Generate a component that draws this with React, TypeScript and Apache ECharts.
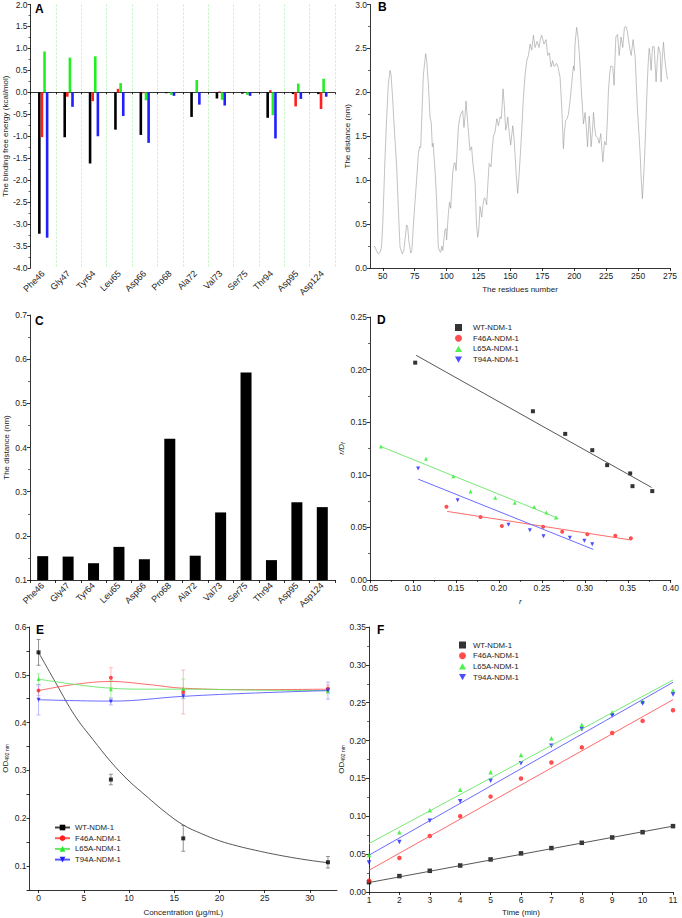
import React, { useEffect, useRef } from 'react';
import * as echarts from 'echarts';

const FONT = 'Liberation Sans';

// ---------- Panel A ----------
const residues = ['Phe46', 'Gly47', 'Tyr64', 'Leu65', 'Asp66', 'Pro68', 'Ala72', 'Val73', 'Ser75', 'Thr94', 'Asp95', 'Asp124'];
const aWT = [-3.22, -1.02, -1.62, -0.85, -0.97, -0.02, -0.56, -0.14, -0.03, -0.58, -0.04, -0.04];
const aF46A = [-1.02, -0.1, -0.2, 0.08, -0.02, 0.0, 0.0, 0.02, 0.0, 0.05, -0.32, -0.38];
const aL65A = [0.93, 0.79, 0.82, 0.21, -0.18, -0.06, 0.28, -0.17, -0.06, -0.52, 0.2, 0.31];
const aT94A = [-3.31, -0.33, -1.0, -0.54, -1.15, -0.08, -0.28, -0.3, -0.08, -1.05, -0.15, -0.1];

// ---------- Panel B ----------
const bData: number[][] = [
  [43, 0.25], [44, 0.24], [45, 0.2], [46.5, 0.16], [48, 0.18], [49, 0.24], [50, 0.5], [51.7, 1.23], [53, 1.7],
  [54.4, 2.1], [55.7, 2.25], [56.5, 2.2], [57.8, 1.91], [59, 1.6], [60.9, 1.15], [62, 0.75], [63.5, 0.24],
  [65.3, 0.16], [66.5, 0.2], [67.4, 0.32], [68.7, 0.49], [69.5, 0.47], [70.5, 0.3], [71.9, 0.17], [72.8, 0.2],
  [73.9, 0.47], [75, 0.7], [76.5, 1.0], [77.9, 1.3], [78.8, 1.38], [79.7, 1.37], [80.8, 1.8], [81.8, 2.2],
  [83.6, 2.44], [84.5, 2.35], [85.7, 2.1], [87, 1.72], [88, 1.65], [88.8, 1.38], [89.5, 1.42], [90, 1.3],
  [91, 1.1], [92.2, 0.77], [93.5, 0.24], [94.5, 0.19], [95.4, 0.18], [96.2, 0.25], [97, 0.2], [98.7, 0.43],
  [99.5, 0.45], [100, 0.32], [101.4, 0.62], [102.3, 0.75], [103.2, 0.68], [104.8, 1.08], [105.8, 1.19],
  [106.6, 1.2], [107.4, 1.11], [108.3, 1.35], [109.2, 1.6], [110.2, 1.7], [111, 1.75], [112.6, 1.79],
  [113.6, 1.6], [114.4, 1.72], [115.2, 1.9], [116, 1.75], [117, 1.57], [118.3, 1.34], [119.6, 1.38],
  [120.5, 1.2], [121.5, 1.08], [122.3, 0.98], [123.4, 0.5], [124.4, 0.35], [125.3, 0.45], [126.2, 0.7],
  [127.5, 0.58], [128.5, 0.72], [129.6, 0.8], [130.5, 0.78], [131.4, 0.72], [132.3, 0.95], [133.3, 1.19],
  [134.8, 1.15], [135.7, 1.35], [136.7, 1.5], [138, 1.55], [139.3, 1.7], [140.6, 1.62], [141.9, 1.72],
  [142.8, 1.7], [143.5, 1.85], [144.2, 2.04], [145.2, 1.85], [146.3, 1.57], [147.1, 1.62], [147.9, 1.72],
  [149, 1.55], [150.2, 1.4], [151.8, 1.62], [152.7, 1.5], [153.6, 1.3], [154.6, 1.05], [155.7, 0.85],
  [156.5, 1.0], [157.5, 1.23], [158.8, 1.55], [160.2, 1.95], [161.5, 2.2], [162.8, 2.36], [164.1, 2.42],
  [165.4, 2.55], [166.7, 2.48], [168, 2.65], [169.3, 2.51], [170.9, 2.58], [172.4, 2.51], [173.4, 2.6],
  [174.5, 2.65], [175.4, 2.6], [176.3, 2.55], [177.9, 2.6], [179.2, 2.42], [180.5, 2.45], [181.8, 2.29],
  [183.1, 2.36], [184, 2.3], [185, 2.3], [186, 2.33], [187.1, 2.3], [188.9, 2.17], [190.2, 1.83],
  [191.5, 1.36], [192.3, 1.55], [193.3, 1.68], [194.4, 1.7], [195.4, 1.75], [196.7, 1.9], [198, 2.1],
  [199.3, 2.3], [200, 2.25], [200.6, 2.55], [201.9, 2.74], [202.8, 2.65], [203.8, 2.48], [204.6, 2.3],
  [205.4, 2.06], [206.3, 1.85], [207.2, 1.64], [208.5, 1.77], [209.4, 1.6], [210.4, 1.38], [211.7, 1.73],
  [212.4, 1.6], [213.2, 1.38], [214.2, 1.55], [215.1, 1.77], [216, 1.6], [216.9, 1.5], [218.5, 1.48],
  [219.5, 1.42], [220.8, 1.53], [221.6, 1.35], [222.4, 1.21], [223.7, 1.44], [225, 1.4], [226, 1.7],
  [226.8, 2.02], [227.7, 2.2], [228.6, 2.3], [230.2, 2.29], [231.2, 2.08], [232, 2.4], [232.6, 2.63],
  [233.9, 2.66], [235.2, 2.42], [236.7, 2.63], [238, 2.51], [239.3, 2.74], [240.6, 2.75], [241.5, 2.7],
  [242.5, 2.6], [243.5, 2.5], [244.6, 2.42], [246.1, 2.6], [247.7, 2.4], [248.6, 2.1], [249.5, 1.8],
  [250.6, 1.55], [251.6, 1.3], [252.5, 1.0], [253.4, 0.79], [254.2, 1.0], [255, 1.23], [256, 1.6],
  [256.8, 1.95], [257.8, 2.3], [258.7, 2.5], [259.5, 2.4], [260.2, 2.25], [261.3, 2.52], [262.6, 2.52],
  [263.4, 2.3], [264.1, 2.12], [265, 2.35], [266, 2.52], [267.3, 2.45], [268, 2.12], [269, 2.4],
  [269.9, 2.57], [270.8, 2.4], [271.7, 2.28], [273, 2.15],
];
const bTicks = [50, 75, 100, 125, 150, 175, 200, 225, 250, 275];

// ---------- Panel C ----------
const cValues = [0.154, 0.153, 0.138, 0.175, 0.147, 0.42, 0.155, 0.253, 0.57, 0.145, 0.276, 0.265];

// ---------- Panel D ----------
const dWT = [[0.1026, 0.2066], [0.2396, 0.1604], [0.2772, 0.1389], [0.3087, 0.1234], [0.326, 0.1092], [0.3528, 0.1013], [0.3555, 0.0892], [0.3785, 0.0845]];
const dF46A = [[0.139, 0.0696], [0.1786, 0.0598], [0.2035, 0.0513], [0.2515, 0.0506], [0.2737, 0.0459], [0.3029, 0.0434], [0.3355, 0.0421], [0.3536, 0.0396]];
const dL65A = [[0.0627, 0.1269], [0.1152, 0.1152], [0.1471, 0.0987], [0.167, 0.0842], [0.1958, 0.0782], [0.2185, 0.0734], [0.2411, 0.0693], [0.2553, 0.0642], [0.2664, 0.0595]];
const dT94A = [[0.106, 0.106], [0.152, 0.0759], [0.2112, 0.0525], [0.2361, 0.0472], [0.2519, 0.0415], [0.2826, 0.0402], [0.2995, 0.0373], [0.3087, 0.0339]];
const dFitWT = [[0.1037, 0.2136], [0.3777, 0.088]];
const dFitF46A = [[0.1398, 0.0652], [0.354, 0.038]];
const dFitL65A = [[0.0627, 0.1269], [0.2695, 0.0585]];
const dFitT94A = [[0.106, 0.0959], [0.3098, 0.0291]];

// ---------- Panel E ----------
const eConc = [0, 8, 16, 32];
const eWT = [0.547, 0.281, 0.158, 0.108];
const eWTErr = [0.027, 0.011, 0.027, 0.012];
const eF46A = [0.467, 0.494, 0.464, 0.471];
const eF46AErr = [0.01, 0.021, 0.046, 0.008];
const eL65A = [0.491, 0.47, 0.471, 0.467];
const eL65AErr = [0.011, 0.018, 0.02, 0.006];
const eT94A = [0.448, 0.444, 0.455, 0.467];
const eT94AErr = [0.032, 0.007, 0.005, 0.018];
const eCurveWT = [[0, 0.547], [2, 0.48], [4, 0.415], [6, 0.365], [8, 0.318], [10, 0.278], [12, 0.245], [14, 0.213], [16, 0.186], [18, 0.168], [20, 0.153], [22, 0.142], [24, 0.133], [26, 0.125], [28, 0.118], [30, 0.112], [32, 0.107]];
const eCurveF46A = [[0, 0.467], [4, 0.48], [8, 0.486], [12, 0.48], [16, 0.472], [24, 0.469], [32, 0.47]];
const eCurveL65A = [[0, 0.491], [4, 0.48], [8, 0.472], [12, 0.47], [16, 0.47], [24, 0.468], [32, 0.467]];
const eCurveT94A = [[0, 0.448], [8, 0.445], [16, 0.455], [24, 0.462], [32, 0.467]];
const eXTicks = [0, 5, 10, 15, 20, 25, 30];

// ---------- Panel F ----------
const fTime = [1, 2, 3, 4, 5, 6, 7, 8, 9, 10, 11];
const fWT = [0.013, 0.021, 0.028, 0.035, 0.043, 0.051, 0.058, 0.065, 0.072, 0.079, 0.087];
const fF46A = [0.015, 0.045, 0.074, 0.1, 0.126, 0.15, 0.171, 0.191, 0.21, 0.226, 0.24];
const fL65A = [0.049, 0.079, 0.108, 0.135, 0.158, 0.181, 0.203, 0.221, 0.237, 0.252, 0.266];
const fT94A = [0.039, 0.066, 0.094, 0.12, 0.147, 0.17, 0.193, 0.215, 0.233, 0.249, 0.261];
const fFitWT = [[1, 0.0125], [11, 0.087]];
const fFitF46A = [[1, 0.0287], [11, 0.254]];
const fFitL65A = [[1, 0.064], [11, 0.28]];
const fFitT94A = [[1, 0.0486], [11, 0.277]];

const names = ['WT-NDM-1', 'F46A-NDM-1', 'L65A-NDM-1', 'T94A-NDM-1'];

const BLACK = '#000000';
const RED = '#ff1f1f';
const GREEN = '#22ee22';
const BLUE = '#1f1fff';
const DOWN = 'path://M0,0L10,0L5,9Z';
const UP = 'path://M5,0L10,9L0,9Z';
const symbols = ['rect', 'circle', UP, DOWN];
const colors = [BLACK, RED, GREEN, BLUE];
const fitColors = ['#444444', '#ff5a5a', '#66e666', '#5a5aff'];
const errColors = ['#777777', '#ffaaaa', '#99ee99', '#aaaaff'];

const lbl = { fontSize: 8.5, color: '#222', fontFamily: FONT, margin: 3 };
const catLbl = { fontSize: 9, color: '#222', fontFamily: FONT, margin: 4, rotate: 45, interval: 0 };
const nameStyle = { fontSize: 8, color: '#222', fontFamily: FONT };
const line = { show: true, onZero: false, lineStyle: { color: '#000', width: 0.8 } };
const tick = { show: true, length: 3, lineStyle: { color: '#000', width: 0.8 } };
const minor = { show: true, splitNumber: 2, length: 2, lineStyle: { color: '#000', width: 0.6 } };
const noSplit = { show: false };

const zip = (xs: number[], ys: number[]) => xs.map((x, i) => [x, ys[i]]);
const zip3 = (xs: number[], ys: number[], es: number[]) => xs.map((x, i) => [x, ys[i], es[i]]);

function errorRender(color: string) {
  return (params: any, api: any) => {
    const x = api.value(0);
    const y = api.value(1);
    const e = api.value(2);
    const top = api.coord([x, y + e]);
    const bot = api.coord([x, y - e]);
    const w = 2;
    const st = { stroke: color, lineWidth: 0.8 };
    return {
      type: 'group',
      children: [
        { type: 'line', shape: { x1: top[0], y1: top[1], x2: bot[0], y2: bot[1] }, style: st },
        { type: 'line', shape: { x1: top[0] - w, y1: top[1], x2: top[0] + w, y2: top[1] }, style: st },
        { type: 'line', shape: { x1: bot[0] - w, y1: bot[1], x2: bot[0] + w, y2: bot[1] }, style: st },
      ],
    };
  };
}

export default function App() {
  const ref = useRef<HTMLDivElement>(null);
  useEffect(() => {
    if (!ref.current) return;
    const chart = echarts.init(ref.current, null, { renderer: 'svg' });

    const aSeries = [aWT, aF46A, aL65A, aT94A].map((d, i) => ({
      type: 'bar', name: 'A' + i, xAxisIndex: 0, yAxisIndex: 0, data: d,
      barWidth: 2.6, barGap: '0%', itemStyle: { color: colors[i] }, silent: true,
    }));

    const dData = [dWT, dF46A, dL65A, dT94A];
    const dFits = [dFitWT, dFitF46A, dFitL65A, dFitT94A];
    const dSeries: any[] = [];
    dData.forEach((d, i) => {
      dSeries.push({ type: 'line', name: 'dfit' + i, xAxisIndex: 4, yAxisIndex: 3, data: dFits[i], showSymbol: false, lineStyle: { color: fitColors[i], width: 0.9 }, silent: true });
      dSeries.push({ type: 'scatter', name: names[i], xAxisIndex: 4, yAxisIndex: 3, data: d, symbol: symbols[i], symbolSize: 4, itemStyle: { color: colors[i] } });
    });

    const eVals = [eWT, eF46A, eL65A, eT94A];
    const eErrs = [eWTErr, eF46AErr, eL65AErr, eT94AErr];
    const eCurves = [eCurveWT, eCurveF46A, eCurveL65A, eCurveT94A];
    const eSeries: any[] = [];
    eVals.forEach((v, i) => {
      eSeries.push({ type: 'custom', name: 'eerr' + i, xAxisIndex: 5, yAxisIndex: 4, data: zip3(eConc, v, eErrs[i]), renderItem: errorRender(errColors[i]), encode: { x: 0, y: 1 }, silent: true, z: 1 });
    });
    eVals.forEach((v, i) => {
      eSeries.push({ type: 'line', name: names[i] + ' ', xAxisIndex: 5, yAxisIndex: 4, data: eCurves[i], smooth: 0.4, showSymbol: false, symbol: symbols[i], symbolSize: 7, lineStyle: { color: i === 0 ? '#444' : fitColors[i], width: 0.9 }, itemStyle: { color: colors[i] }, z: 2 });
      eSeries.push({ type: 'scatter', name: 'epts' + i, xAxisIndex: 5, yAxisIndex: 4, data: zip(eConc, v), symbol: symbols[i], symbolSize: 4, itemStyle: { color: colors[i] }, z: 3 });
    });

    const fVals = [fWT, fF46A, fL65A, fT94A];
    const fFits = [fFitWT, fFitF46A, fFitL65A, fFitT94A];
    const fSeries: any[] = [];
    fVals.forEach((v, i) => {
      fSeries.push({ type: 'line', name: 'ffit' + i, xAxisIndex: 6, yAxisIndex: 5, data: fFits[i], showSymbol: false, lineStyle: { color: fitColors[i], width: 0.9 }, silent: true });
      fSeries.push({ type: 'scatter', name: names[i] + '  ', xAxisIndex: 6, yAxisIndex: 5, data: zip(fTime, v), symbol: symbols[i], symbolSize: 4.5, itemStyle: { color: colors[i] } });
    });

    const legendBase = {
      orient: 'vertical', itemHeight: 7, itemGap: 2.7, padding: 0, selectedMode: false,
      formatter: (n: string) => n.trim(),
    };
    const legText = (pad: number) => ({ fontSize: 7.8, fontFamily: FONT, color: '#222', lineHeight: 7, padding: [0, 0, 0, pad] });

    const letter = (t: string, x: number, y: number) => ({
      type: 'text', x, y, silent: true,
      style: { text: t, font: `bold 12px "${FONT}"`, fill: '#000', align: 'left', verticalAlign: 'top' },
    });

    const option: any = {
      animation: false,
      backgroundColor: '#fff',
      grid: [
        { left: 30, top: 4, width: 305, height: 264 },
        { left: 370, top: 4, width: 300, height: 264 },
        { left: 30, top: 315, width: 305, height: 265 },
        { left: 370, top: 317, width: 303, height: 263 },
        { left: 29, top: 627, width: 308, height: 263 },
        { left: 369, top: 627, width: 304, height: 265 },
      ],
      xAxis: [
        { type: 'category', gridIndex: 0, data: residues, position: 'bottom',
          axisLine: { show: false, onZero: false }, axisTick: { show: false },
          axisLabel: catLbl,
          splitLine: { show: true, interval: 0, lineStyle: { color: '#aaf0aa', type: [2, 2], width: 0.8 } } },
        { type: 'category', gridIndex: 0, data: residues, position: 'bottom',
          axisLine: { show: true, onZero: true, lineStyle: { color: '#000', width: 0.8 } },
          axisTick: { show: true, length: 2, interval: 0, lineStyle: { color: '#000', width: 0.8 } },
          axisLabel: { show: false }, splitLine: noSplit },
        { type: 'value', gridIndex: 1, min: 40, max: 275,
          axisLine: line, axisTick: { ...tick, customValues: bTicks },
          axisLabel: { ...lbl, customValues: bTicks }, splitLine: noSplit,
          name: 'The residues number', nameLocation: 'middle', nameGap: 17, nameTextStyle: nameStyle },
        { type: 'category', gridIndex: 2, data: residues,
          axisLine: line, axisTick: { ...tick, interval: 0 },
          axisLabel: catLbl, splitLine: noSplit },
        { type: 'value', gridIndex: 3, min: 0.05, max: 0.4, interval: 0.05,
          axisLine: line, axisTick: tick, minorTick: minor,
          axisLabel: { ...lbl, formatter: (v: number) => v.toFixed(2) }, splitLine: noSplit,
          name: 'r', nameLocation: 'middle', nameGap: 17, nameTextStyle: { ...nameStyle, fontStyle: 'italic' } },
        { type: 'value', gridIndex: 4, min: -1, max: 33,
          axisLine: line, axisTick: { ...tick, customValues: eXTicks },
          axisLabel: { ...lbl, customValues: eXTicks }, splitLine: noSplit,
          name: 'Concentration (μg/mL)', nameLocation: 'middle', nameGap: 18, nameTextStyle: nameStyle },
        { type: 'value', gridIndex: 5, min: 1, max: 11, interval: 1,
          axisLine: line, axisTick: tick,
          axisLabel: lbl, splitLine: noSplit,
          name: 'Time (min)', nameLocation: 'middle', nameGap: 16, nameTextStyle: nameStyle },
      ],
      yAxis: [
        { type: 'value', gridIndex: 0, min: -4, max: 2, interval: 0.5,
          axisLine: line, axisTick: tick, minorTick: minor,
          axisLabel: { ...lbl, formatter: (v: number) => v.toFixed(1) }, splitLine: noSplit,
          name: 'The binding free energy (kcal/mol)', nameLocation: 'middle', nameGap: 20, nameTextStyle: nameStyle },
        { type: 'value', gridIndex: 1, min: 0, max: 3, interval: 0.5,
          axisLine: line, axisTick: tick, minorTick: minor,
          axisLabel: { ...lbl, formatter: (v: number) => v.toFixed(1) }, splitLine: noSplit,
          name: 'The distance (nm)', nameLocation: 'middle', nameGap: 19, nameTextStyle: nameStyle },
        { type: 'value', gridIndex: 2, min: 0.1, max: 0.7, interval: 0.1,
          axisLine: line, axisTick: tick, minorTick: minor,
          axisLabel: { ...lbl, formatter: (v: number) => v.toFixed(1) }, splitLine: noSplit,
          name: 'The distance (nm)', nameLocation: 'middle', nameGap: 20, nameTextStyle: nameStyle },
        { type: 'value', gridIndex: 3, min: 0, max: 0.25, interval: 0.05,
          axisLine: line, axisTick: tick, minorTick: minor,
          axisLabel: { ...lbl, formatter: (v: number) => v.toFixed(2) }, splitLine: noSplit,
          name: '{i|r/D}{s|f}', nameLocation: 'middle', nameGap: 24,
          nameTextStyle: { ...nameStyle, rich: { i: { fontSize: 8, fontStyle: 'italic', fontFamily: FONT, color: '#222' }, s: { fontSize: 6, fontStyle: 'italic', fontFamily: FONT, color: '#222', padding: [4, 0, 0, 0] } } } },
        { type: 'value', gridIndex: 4, min: 0.05, max: 0.6, interval: 0.05,
          axisLine: line, axisTick: tick,
          axisLabel: { ...lbl, formatter: (v: number) => (Math.round(v * 100) % 10 === 0 ? v.toFixed(1) : '') }, splitLine: noSplit,
          name: '{a|OD}{s|492 nm}', nameLocation: 'middle', nameGap: 20,
          nameTextStyle: { ...nameStyle, rich: { a: { fontSize: 8, fontFamily: FONT, color: '#222' }, s: { fontSize: 5, fontFamily: FONT, color: '#222', padding: [4, 0, 0, 0] } } } },
        { type: 'value', gridIndex: 5, min: 0, max: 0.35, interval: 0.05,
          axisLine: line, axisTick: tick, minorTick: minor,
          axisLabel: { ...lbl, formatter: (v: number) => v.toFixed(2) }, splitLine: noSplit,
          name: '{a|OD}{s|492 nm}', nameLocation: 'middle', nameGap: 23,
          nameTextStyle: { ...nameStyle, rich: { a: { fontSize: 8, fontFamily: FONT, color: '#222' }, s: { fontSize: 5, fontFamily: FONT, color: '#222', padding: [4, 0, 0, 0] } } } },
      ],
      legend: [
        { ...legendBase, data: names, left: 455, top: 323.5, itemWidth: 7, textStyle: legText(6) },
        { ...legendBase, data: names.map((n) => n + ' '), left: 54, top: 823.5, itemWidth: 15, textStyle: legText(0) },
        { ...legendBase, data: names.map((n) => n + '  '), left: 459, top: 641, itemWidth: 7, textStyle: legText(2) },
      ],
      graphic: [
        letter('A', 35, 3),
        letter('B', 378, 1),
        letter('C', 35, 315),
        letter('D', 377, 314),
        letter('E', 36, 624),
        letter('F', 377, 624),
      ],
      series: [
        ...aSeries,
        { type: 'line', name: 'bline', xAxisIndex: 2, yAxisIndex: 1, data: bData, showSymbol: false, lineStyle: { color: '#999', width: 0.6 }, silent: true },
        { type: 'bar', name: 'cbar', xAxisIndex: 3, yAxisIndex: 2, data: cValues, barWidth: 11, itemStyle: { color: '#000' }, silent: true },
        ...dSeries,
        ...eSeries,
        ...fSeries,
      ],
    };
    chart.setOption(option);
    return () => chart.dispose();
  }, []);
  return <div ref={ref} style={{ position: 'absolute', left: 0, top: 0, width: 682, height: 918, background: '#fff' }} />;
}
